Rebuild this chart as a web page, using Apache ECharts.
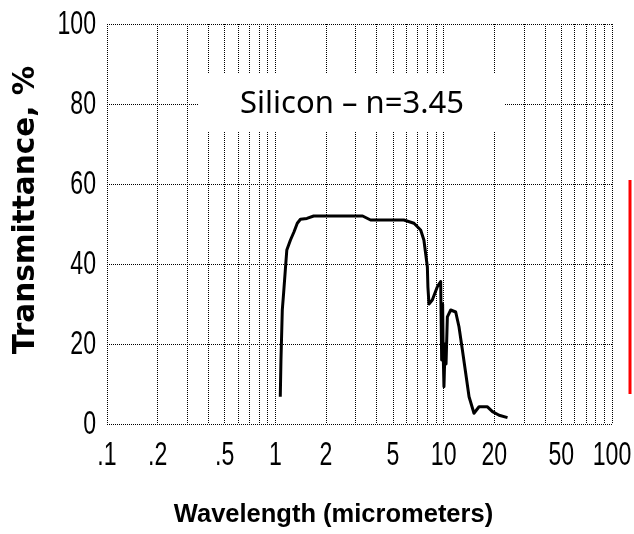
<!DOCTYPE html>
<html>
<head>
<meta charset="utf-8">
<script src="https://cdn.jsdelivr.net/npm/echarts@6/dist/echarts.min.js"></script>
<style>
  html, body { margin: 0; padding: 0; background: #fff; }
  #chart { width: 634px; height: 534px; }
</style>
</head>
<body>
<div id="chart"></div>
<script>
// Transmission curve of silicon (wavelength in micrometers, transmittance in %)
const wavelength = [
  1.07, 1.08, 1.10, 1.12, 1.15, 1.17, 1.23, 1.29, 1.35, 1.41, 1.54, 1.69,
  2.44, 3.30, 3.68, 4.84, 5.80, 6.66, 7.30, 7.63, 7.81, 8.00, 8.06, 8.18, 8.56,
  9.17, 9.60, 9.73, 9.86, 9.93, 10.04, 10.20, 10.33, 10.52, 11.01, 11.79,
  12.33, 12.92, 13.52, 14.15, 15.14, 16.22, 18.20, 19.50, 21.35, 23.95
];
const transmittance = [
  6.8, 16.0, 28.5, 32.7, 39.3, 43.5, 46.0, 48.0, 50.2, 51.2, 51.4, 52.0,
  52.0, 52.0, 51.0, 51.0, 51.0, 50.2, 48.5, 46.0, 42.7, 39.3, 34.3, 30.0, 31.0,
  34.3, 35.6, 16.0, 30.0, 18.0, 9.3, 20.0, 15.0, 26.8, 28.5, 28.0,
  24.3, 18.5, 12.7, 6.8, 2.7, 4.3, 4.3, 3.1, 2.2, 1.6
];

// Grid lines at every integer multiple within each decade
const gridValues = [
  0.1, 0.2, 0.3, 0.4, 0.5, 0.6, 0.7, 0.8, 0.9,
  1, 2, 3, 4, 5, 6, 7, 8, 9,
  10, 20, 30, 40, 50, 60, 70, 80, 90, 100
];
const xLabelValues = [0.1, 0.2, 0.5, 1, 2, 5, 10, 20, 50, 100];
const xLabelTexts = ['.1', '.2', '.5', '1', '2', '5', '10', '20', '50', '100'];
const yTicks = [0, 20, 40, 60, 80, 100];

const titleText = 'Silicon \u2013 n=3.45';
const xTitle = 'Wavelength (micrometers)';
const yTitle = 'Transmittance, %';

const chart = echarts.init(document.getElementById('chart'), null, { renderer: 'canvas' });

const dotted = { color: '#000', width: 1, type: [1, 1] };
// Tall, condensed tick numerals
const tickFont = '33px "Liberation Sans", sans-serif';
const tickSqueeze = 0.7;

chart.setOption({
  animation: false,
  backgroundColor: '#fff',
  grid: { left: 107, right: 22, top: 24, bottom: 110, containLabel: false, outerBoundsMode: 'none' },
  xAxis: {
    type: 'log',
    logBase: 10,
    min: 0.1,
    max: 100,
    name: xTitle,
    nameLocation: 'middle',
    nameGap: 78,
    nameTextStyle: {
      fontFamily: '"Liberation Sans", sans-serif', fontWeight: 'bold', fontSize: 25.5, color: '#000',
      padding: [0, 52, 0, 0]
    },
    axisLine: { show: false },
    axisTick: { show: false, customValues: gridValues },
    splitLine: { show: true, lineStyle: dotted },
    axisLabel: { show: false, customValues: xLabelValues }
  },
  yAxis: {
    type: 'value',
    min: yTicks[0],
    max: yTicks[yTicks.length - 1],
    interval: 20,
    name: yTitle,
    nameLocation: 'middle',
    nameGap: 66,
    nameTextStyle: {
      fontFamily: '"DejaVu Sans", sans-serif', fontWeight: 'bold', fontSize: 29.5, color: '#000',
      padding: [0, 0, 0, 28]
    },
    axisLine: { show: false },
    axisTick: { show: false },
    splitLine: { show: true, lineStyle: dotted },
    axisLabel: { show: false }
  },
  series: [{
    type: 'line',
    data: wavelength.map((w, i) => [w, transmittance[i]]),
    showSymbol: false,
    lineStyle: { color: '#000', width: 3, join: 'round' },
    z: 10
  }]
});

// Tick numerals placed through the axis scales, horizontally condensed
const xPix = v => chart.convertToPixel({ xAxisIndex: 0 }, v);
const yPix = v => chart.convertToPixel({ yAxisIndex: 0 }, v);
const axisBottom = yPix(0);
const plotLeft = xPix(0.1);

const tickTexts = [];
xLabelValues.forEach((v, i) => {
  tickTexts.push({
    type: 'text', z: 50,
    x: xPix(v), y: axisBottom + 32, scaleX: tickSqueeze,
    style: { text: xLabelTexts[i], fill: '#000', font: tickFont, align: 'center', verticalAlign: 'middle' }
  });
});
yTicks.forEach(v => {
  tickTexts.push({
    type: 'text', z: 50,
    x: plotLeft - 11, y: yPix(v) + 1, scaleX: tickSqueeze,
    style: { text: String(v), fill: '#000', font: tickFont, align: 'right', verticalAlign: 'middle' }
  });
});

chart.setOption({
  graphic: [
    {
      type: 'rect', z: 100,
      shape: { x: 198, y: 73, width: 307, height: 59 },
      style: { fill: '#fff' }
    },
    {
      type: 'text', z: 101,
      x: 352, y: 104,
      style: {
        text: titleText, fill: '#000',
        font: '31px "Noto Sans", sans-serif',
        align: 'center', verticalAlign: 'middle'
      }
    },
    {
      type: 'line', z: 101,
      shape: { x1: 630, y1: 180, x2: 630, y2: 394 },
      style: { stroke: '#f00', lineWidth: 3 }
    }
  ].concat(tickTexts)
});
</script>
</body>
</html>
